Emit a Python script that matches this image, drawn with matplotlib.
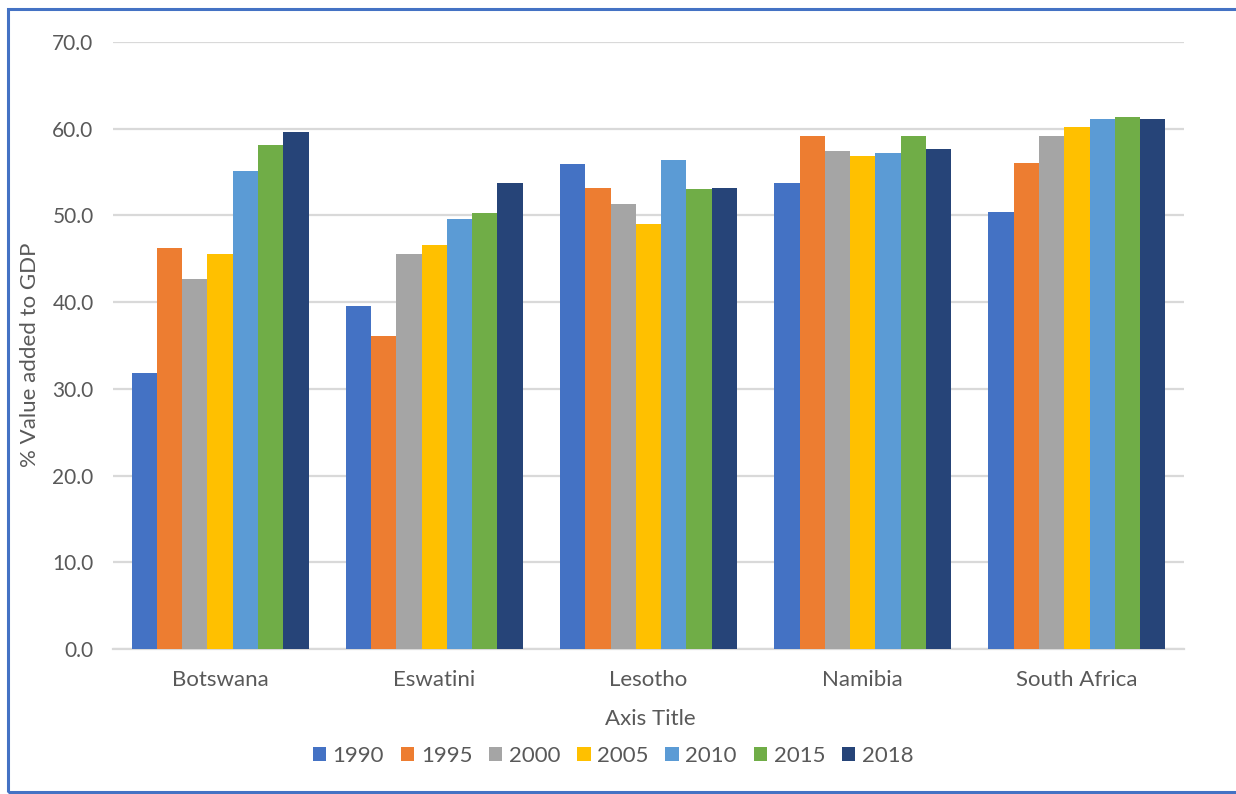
import numpy as np
import matplotlib.pyplot as plt
from matplotlib.patches import Rectangle

countries = ['Botswana', 'Eswatini', 'Lesotho', 'Namibia', 'South Africa']
years = ['1990', '1995', '2000', '2005', '2010', '2015', '2018']

# % value added to GDP, one list per year (order follows countries)
v1990 = [31.8, 39.6, 55.9, 53.7, 50.4]
v1995 = [46.3, 36.1, 53.2, 59.2, 56.1]
v2000 = [42.7, 45.5, 51.3, 57.4, 59.2]
v2005 = [45.6, 46.6, 49.0, 56.8, 60.2]
v2010 = [55.1, 49.6, 56.4, 57.2, 61.1]
v2015 = [58.1, 50.3, 53.0, 59.2, 61.4]
v2018 = [59.6, 53.7, 53.2, 57.7, 61.1]
series = [v1990, v1995, v2000, v2005, v2010, v2015, v2018]

colors = ['#4472C4', '#ED7D31', '#A5A5A5', '#FFC000', '#5B9BD5', '#70AD47', '#264478']
grey = '#595959'

plt.rcParams['font.family'] = ['Lato', 'DejaVu Sans']

fig = plt.figure(figsize=(12.36, 7.94), dpi=100)
ax = fig.add_axes([113/1236, 1 - 649/794, (1184 - 113)/1236, (649 - 42)/794])

x = np.arange(len(countries))
bw = 0.826 / len(years)
for i, (yr, vals) in enumerate(zip(years, series)):
    offs = (i - (len(years) - 1) / 2) * bw
    ax.bar(x + offs, vals, width=bw, color=colors[i], label=yr, zorder=3)

ax.set_xlim(-0.5, len(countries) - 0.5)
ax.set_ylim(0, 70)
ax.set_yticks(np.arange(0, 71, 10))
ax.set_yticklabels([f'{t:.1f}' for t in np.arange(0, 71, 10)])
ax.set_xticks(x)
ax.set_xticklabels(countries)
ax.yaxis.grid(True, color='#d9d9d9', linewidth=1.6, zorder=0)
ax.set_axisbelow(True)

for s in ['top', 'right', 'left']:
    ax.spines[s].set_visible(False)
ax.spines['bottom'].set_color('#d9d9d9')
ax.spines['bottom'].set_linewidth(1.6)
ax.tick_params(length=0, labelsize=15, colors=grey, pad=14)
ax.tick_params(axis='x', labelsize=16, pad=15)

fig.text(650/1236, 1 - 719/794, 'Axis Title', fontsize=16, color=grey,
         ha='center', va='center')
fig.text(30/1236, 1 - 355/794, '% Value added to GDP', rotation=90, fontsize=16,
         color=grey, ha='center', va='center')

leg = fig.legend(loc='center', bbox_to_anchor=(613/1236, 1 - 756/794), ncol=7,
                 frameon=False, fontsize=16, handlelength=0.6, handleheight=0.6,
                 handletextpad=0.3, columnspacing=0.75, labelcolor=grey)

# chart border
fig.patches.append(Rectangle((8/1236, 1 - 792/794), 1.0, (792 - 9)/794,
                             transform=fig.transFigure, fill=False,
                             edgecolor='#4472C4', linewidth=2.2))

fig.savefig('out.png', dpi=100)
